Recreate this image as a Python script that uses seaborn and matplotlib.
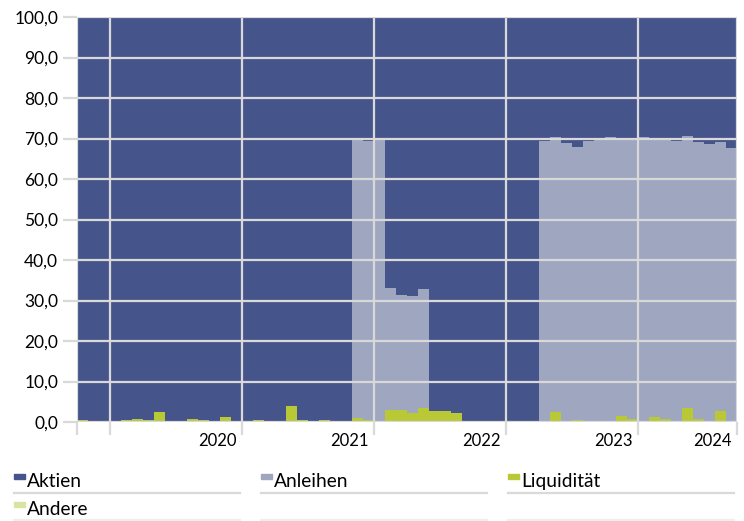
import numpy as np
import pandas as pd
import matplotlib
matplotlib.use("Agg")
import matplotlib.pyplot as plt
import seaborn as sns
from matplotlib.patches import Rectangle
from matplotlib.lines import Line2D

# monthly allocation in %, Oct 2019 .. Sep 2024
months = [str(p) for p in pd.period_range("2019-10", periods=60, freq="M")]
years = ["2020", "2021", "2022", "2023", "2024"]

liquiditaet = [
    0.6, 0.1, 0.1,
    0.1, 0.6, 0.75, 0.4, 2.5, 0.0, 0.25, 0.75, 0.5, 0.0, 1.3, 0.0,
    0.0, 0.5, 0.0, 0.0, 4.0, 0.6, 0.1, 0.6, 0.1, 0.3, 1.0, 0.4,
    0.0, 2.9, 3.0, 2.3, 3.4, 2.8, 2.7, 2.3, 0.0, 0.0, 0.0, 0.0,
    0.0, 0.0, 0.0, 0.0, 2.5, 0.3, 0.5, 0.3, 0.0, 0.3, 1.5, 0.65,
    0.0, 1.25, 0.75, 0.0, 3.4, 0.75, 0.25, 2.8, 0.2,
]
anleihen = [
    0.0, 0.0, 0.0,
    0.0, 0.0, 0.0, 0.0, 0.0, 0.0, 0.0, 0.0, 0.0, 0.0, 0.0, 0.0,
    0.0, 0.0, 0.0, 0.0, 0.0, 0.0, 0.0, 0.0, 0.0, 0.0, 68.8, 69.1,
    69.8, 30.2, 28.4, 28.8, 29.4, 0.0, 0.0, 0.0, 0.0, 0.0, 0.0, 0.0,
    0.0, 0.0, 0.0, 69.4, 67.8, 68.7, 67.5, 69.0, 69.6, 70.0, 68.3, 68.9,
    70.3, 68.6, 68.9, 69.3, 67.1, 68.3, 68.4, 66.4, 67.5,
]
andere = [
    0.0, 0.0, 0.0,
    0.0, 0.0, 0.0, 0.0, 0.0, 0.0, 0.0, 0.0, 0.0, 0.0, 0.0, 0.0,
    0.0, 0.0, 0.0, 0.0, 0.0, 0.0, 0.0, 0.0, 0.0, 0.0, 0.0, 0.0,
    0.0, 0.0, 0.0, 0.0, 0.0, 0.0, 0.0, 0.0, 0.0, 0.0, 0.0, 0.0,
    0.0, 0.0, 0.0, 0.0, 0.0, 0.0, 0.0, 0.0, 0.0, 0.0, 0.0, 0.0,
    0.0, 0.0, 0.0, 0.0, 0.0, 0.0, 0.0, 0.0, 0.0,
]

df = pd.DataFrame({"Monat": months, "Liquidität": liquiditaet,
                   "Anleihen": anleihen, "Andere": andere})
df["Aktien"] = 100 - df["Liquidität"] - df["Anleihen"] - df["Andere"]

colors = {"Aktien": "#45548a", "Anleihen": "#9ea6c0",
          "Liquidität": "#b8c935", "Andere": "#d8e4a2"}
stack = ["Liquidität", "Anleihen", "Andere", "Aktien"]  # bottom -> top
cum = df[stack].cumsum(axis=1)

grid_c = "#d9d9d9"
plt.rcParams["font.family"] = ["Lato", "DejaVu Sans"]

fig = plt.figure(figsize=(7.44, 5.21), dpi=100)
ax = fig.add_axes([77 / 744, 1 - 422 / 521, 660 / 744, 405 / 521])

# stacked bars drawn as overlapping cumulative heights, top series first
for name in reversed(stack):
    sns.barplot(x=df["Monat"], y=cum[name], color=colors[name], width=1.0,
                saturation=1, linewidth=0, antialiased=False, ax=ax)

ax.set_xlim(-0.5, len(months) - 0.5)
ax.set_ylim(0, 100)
ax.set_xlabel("")
ax.set_ylabel("")
for s in ax.spines.values():
    s.set_visible(False)

# y axis
yt = np.arange(0, 101, 10)
ax.set_yticks(yt, [f"{v:.1f}".replace(".", ",") for v in yt])
ax.tick_params(axis="y", length=10, width=1.6, color=grid_c, pad=3.5,
               labelsize=12.5)

# x axis: year boundaries as gridlines, year labels right-aligned
bounds = [-0.5] + [months.index(f"{y}-01") - 0.5 for y in years] + [len(months) - 0.5]
ax.set_xticks(bounds, [""] * len(bounds))
ax.tick_params(axis="x", which="major", length=9.4, width=1.6, color=grid_c)
ends = bounds[2:]
ax.set_xticks([e - 0.45 for e in ends], years, minor=True)
ax.tick_params(axis="x", which="minor", length=0, pad=8, labelsize=12)
for lbl in ax.get_xticklabels(minor=True):
    lbl.set_horizontalalignment("right")

ax.set_axisbelow(False)
ax.grid(True, which="major", color=grid_c, linewidth=1.6)

# legend below, three columns with separator lines
W, H = 744, 521
def fx(px): return px / W
def fy(py): return 1 - py / H

legend_items = ["Aktien", "Anleihen", "Liquidität", "Andere"]
for k, name in enumerate(legend_items):
    col, row = k % 3, k // 3
    x0 = 14 + col * 247
    y0 = 474 + row * 28
    fig.add_artist(Rectangle((fx(x0), fy(y0 + 5)), fx(11), 5 / H,
                             transform=fig.transFigure, color=colors[name]))
    fig.text(fx(x0 + 13), fy(y0 + 13), name, fontsize=13.8, va="baseline",
             ha="left")
for row, (yy, c) in enumerate([(493, "#d9d9d9"), (520, "#eeeeee")]):
    for col in range(3):
        x0 = 14 + col * 247
        fig.add_artist(Line2D([fx(x0), fx(x0 + 226)], [fy(yy), fy(yy)],
                              transform=fig.transFigure, color=c, linewidth=1.6))

fig.savefig("out.png", dpi=100)
